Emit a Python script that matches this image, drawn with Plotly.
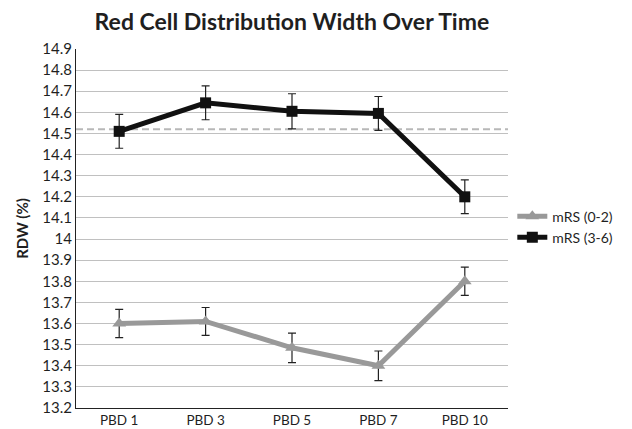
import plotly.graph_objects as go

categories = ["PBD 1", "PBD 3", "PBD 5", "PBD 7", "PBD 10"]
mrs_low = [13.60, 13.61, 13.485, 13.40, 13.80]
mrs_low_err = [0.067, 0.066, 0.07, 0.07, 0.067]
mrs_high = [14.51, 14.645, 14.605, 14.595, 14.20]
mrs_high_err = [0.08, 0.08, 0.083, 0.08, 0.08]
reference_line = 14.52
tick_vals = [13.2, 13.3, 13.4, 13.5, 13.6, 13.7, 13.8, 13.9, 14.0, 14.1, 14.2, 14.3, 14.4, 14.5, 14.6, 14.7, 14.8, 14.9]
tick_text = ["13.2", "13.3", "13.4", "13.5", "13.6", "13.7", "13.8", "13.9", "14", "14.1", "14.2", "14.3", "14.4", "14.5", "14.6", "14.7", "14.8", "14.9"]

FONT = "Lato, Open Sans, sans-serif"
TXT = "#1f1f1f"

fig = go.Figure()

fig.add_shape(type="line", xref="paper", yref="y", x0=0, x1=1, y0=reference_line, y1=reference_line,
              line=dict(color="#b8b8b8", width=2, dash="7px,4px"), layer="below")

fig.add_trace(go.Scatter(
    x=categories, y=mrs_low, name="mRS (0-2)", mode="lines+markers",
    line=dict(color="#999999", width=5),
    marker=dict(symbol="triangle-up", size=12, color="#999999"),
    error_y=dict(type="data", array=mrs_low_err, color="#222222", thickness=1.2, width=4),
))
fig.add_trace(go.Scatter(
    x=categories, y=mrs_high, name="mRS (3-6)", mode="lines+markers",
    line=dict(color="#111111", width=5),
    marker=dict(symbol="square", size=11, color="#111111"),
    error_y=dict(type="data", array=mrs_high_err, color="#222222", thickness=1.2, width=4),
))

fig.update_layout(
    width=624, height=421,
    margin=dict(l=68, r=124, t=41, b=21, autoexpand=False),
    paper_bgcolor="white", plot_bgcolor="white",
    title=dict(text="<b>Red Cell Distribution Width Over Time</b>", x=0.455, xanchor="center",
               y=0.966, yanchor="middle", font=dict(family=FONT, size=23, color=TXT)),
    font=dict(family=FONT, size=14, color=TXT),
    legend=dict(x=1.01, xanchor="left", y=0.504, yanchor="middle",
                font=dict(family=FONT, size=14, color=TXT), tracegroupgap=2),
    showlegend=True,
)

fig.update_xaxes(
    type="category", range=[-0.5, 4.5], showgrid=False, automargin=False,
    showline=True, linecolor="#222222", linewidth=1.2,
    ticks="", tickfont=dict(family=FONT, size=13.5, color=TXT),
)
fig.update_yaxes(
    range=[13.2, 14.9], tickvals=tick_vals, ticktext=tick_text, automargin=False,
    showgrid=True, gridcolor="#c0c0c0", gridwidth=1.2,
    showline=True, linecolor="#222222", linewidth=1.2, zeroline=False,
    ticks="", tickfont=dict(family=FONT, size=15, color=TXT),
    title=dict(text="<b>RDW (%)</b>", font=dict(family=FONT, size=15, color=TXT), standoff=10),
)

fig.write_html("out.html")
